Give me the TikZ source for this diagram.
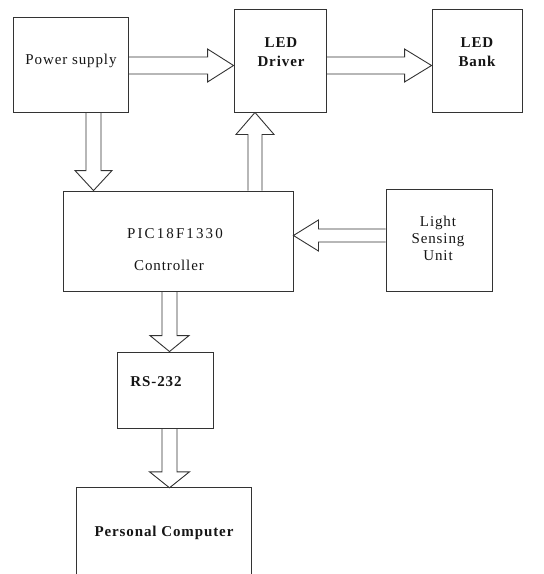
\documentclass[tikz,border=0pt]{standalone}
\usepackage{fontspec}
\setmainfont{Liberation Serif}
\newfontfamily\spfont[LetterSpace=6]{Liberation Serif}
\newfontfamily\wfont[LetterSpace=14]{Liberation Serif}
\usetikzlibrary{calc}
\definecolor{ln}{HTML}{333333}
\definecolor{tx}{HTML}{151515}
\tikzset{
  box/.style={draw=ln,line width=0.9pt,minimum width=#1,inner sep=0pt},
  txt/.style={text=tx,font=\spfont\fontsize{15}{17}\selectfont,inner sep=0pt,align=center},
  btxt/.style={text=tx,font=\spfont\bfseries\fontsize{15}{19}\selectfont,inner sep=0pt,align=center},
  blk/.style={draw=ln,line width=0.9pt,line join=miter}
}
% vertical down block arrow: from #1.south to #2.north, x offset from #1, shaft half, head half, head length
\newcommand{\downarr}[6]{%
  \draw[blk] let \p1=(#1.south), \p2=(#2.north) in
    ({\x1+#3-#4},\y1) -- ({\x1+#3-#4},{\y2+#6}) -- ({\x1+#3-#5},{\y2+#6}) --
    ({\x1+#3},\y2) -- ({\x1+#3+#5},{\y2+#6}) -- ({\x1+#3+#4},{\y2+#6}) -- ({\x1+#3+#4},\y1);}
% horizontal right block arrow: from #1.east to #2.west, y offset from #1
\newcommand{\rightarr}[6]{%
  \draw[blk] let \p1=(#1.east), \p2=(#2.west) in
    (\x1,{\y1+#3+#4}) -- ({\x2-#6},{\y1+#3+#4}) -- ({\x2-#6},{\y1+#3+#5}) --
    (\x2,{\y1+#3}) -- ({\x2-#6},{\y1+#3-#5}) -- ({\x2-#6},{\y1+#3-#4}) -- (\x1,{\y1+#3-#4});}
\begin{document}
\begin{tikzpicture}[x=1pt,y=1pt]
\useasboundingbox (0,0) rectangle (544,-574);
% boxes
\node[box=115pt,minimum height=95pt] (ps) at (70.5,-64.5) {};
\node[box=92pt,minimum height=103pt] (drv) at (280,-60.5) {};
\node[box=90pt,minimum height=103pt] (bank) at (477,-60.5) {};
\node[box=230pt,minimum height=100pt] (pic) at (178,-241) {};
\node[box=106pt,minimum height=102pt] (ls) at (439,-240) {};
\node[box=96pt,minimum height=76pt] (rs) at (165,-390) {};
\node[draw=none,minimum width=174pt,minimum height=86pt,inner sep=0pt] (pc) at (164,-531) {};
\draw[ln,line width=0.9pt] (pc.south west) -- (pc.north west) -- (pc.north east) -- (pc.south east);
% texts
\node[txt] (pst) at (71,-61) {Power supply};
\node[btxt] (drvt) at (281,-52.5) {LED\\Driver};
\node[btxt] (bankt) at (477,-52.5) {LED\\Bank};
\node[txt,font=\wfont\fontsize{15}{17}\selectfont] (pict) at (175,-234) {PIC18F1330};
\node[txt] (ctlt) at (169,-265) {Controller};
\node[txt] (lst) at (438,-238) {Light\\Sensing\\Unit};
\node[btxt] (rst) at (156,-382) {RS-232};
\node[btxt] (pct) at (164,-533) {Personal Computer};
% block arrows
\rightarr{ps}{drv}{-1}{8.5}{16.5}{26}
\rightarr{drv}{bank}{-5}{8.5}{16.5}{27}
\downarr{ps}{pic}{23}{7.5}{18.5}{20}
\draw[blk] let \p1=(pic.north), \p2=(drv.south) in
  ({\x2-25-7},\y1) -- ({\x2-25-7},{\y2-22}) -- ({\x2-25-19},{\y2-22}) --
  ({\x2-25},\y2) -- ({\x2-25+19},{\y2-22}) -- ({\x2-25+7},{\y2-22}) -- ({\x2-25+7},\y1);
\draw[blk] let \p1=(ls.west), \p2=(pic.east) in
  (\x1,{\y1+4.5+6.5}) -- ({\x2+25},{\y1+4.5+6.5}) -- ({\x2+25},{\y1+4.5+15.5}) --
  (\x2,{\y1+4.5}) -- ({\x2+25},{\y1+4.5-15.5}) -- ({\x2+25},{\y1+4.5-6.5}) -- (\x1,{\y1+4.5-6.5});
\draw[blk] let \p1=(pic.south), \p2=(rs.north) in
  ({\x2+4.5-7.5},\y1) -- ({\x2+4.5-7.5},{\y2+16}) -- ({\x2+4.5-19.5},{\y2+16}) --
  ({\x2+4.5},\y2) -- ({\x2+4.5+19.5},{\y2+16}) -- ({\x2+4.5+7.5},{\y2+16}) -- ({\x2+4.5+7.5},\y1);
\downarr{rs}{pc}{4.5}{7.5}{20}{16}
\end{tikzpicture}
\end{document}
